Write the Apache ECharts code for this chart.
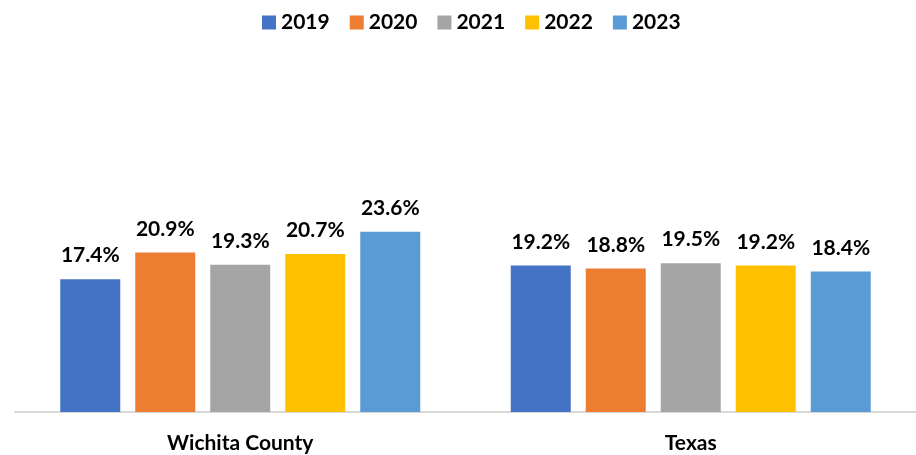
<!DOCTYPE html>
<html>
<head>
<meta charset="utf-8">
<script src="https://cdn.jsdelivr.net/npm/echarts@6/dist/echarts.min.js"></script>
<style>
  html, body { margin: 0; padding: 0; background: #fff; }
  #chart { width: 916px; height: 455px; }
</style>
</head>
<body>
<div id="chart"></div>
<script>
var categories = ['Wichita County', 'Texas'];
var years = ['2019', '2020', '2021', '2022', '2023'];
var colors = ['#4472C4', '#ED7D31', '#A5A5A5', '#FFC000', '#5B9BD5'];
var v2019 = [17.4, 19.2];
var v2020 = [20.9, 18.8];
var v2021 = [19.3, 19.5];
var v2022 = [20.7, 19.2];
var v2023 = [23.6, 18.4];
var values = [v2019, v2020, v2021, v2022, v2023];

var font = 'Lato, "Open Sans", sans-serif';

var series = years.map(function (y, i) {
    return {
        name: y,
        type: 'bar',
        data: values[i],
        barWidth: 60,
        barGap: '25%',
        itemStyle: { color: colors[i] },
        label: {
            show: true,
            position: 'top',
            distance: 13,
            formatter: function (p) { return p.value.toFixed(1) + '%'; },
            color: '#000',
            fontFamily: font,
            fontWeight: 'bold',
            fontSize: 21
        }
    };
});

var chart = echarts.init(document.getElementById('chart'));
chart.setOption({
    animation: false,
    color: colors,
    legend: {
        top: 7,
        left: 257,
        itemWidth: 14,
        itemHeight: 14,
        itemGap: 20,
        icon: 'rect',
        textStyle: { fontFamily: font, fontWeight: 'bold', fontSize: 21, color: '#000' },
        data: years
    },
    grid: { left: 15, right: 0, top: 183, bottom: 43 },
    xAxis: {
        type: 'category',
        data: categories,
        axisLine: { lineStyle: { color: '#D9D9D9', width: 2 } },
        axisTick: { show: false },
        axisLabel: {
            margin: 21,
            color: '#000',
            fontFamily: font,
            fontWeight: 'bold',
            fontSize: 21
        }
    },
    yAxis: {
        type: 'value',
        min: 0,
        max: 30,
        show: false
    },
    series: series
});
</script>
</body>
</html>
